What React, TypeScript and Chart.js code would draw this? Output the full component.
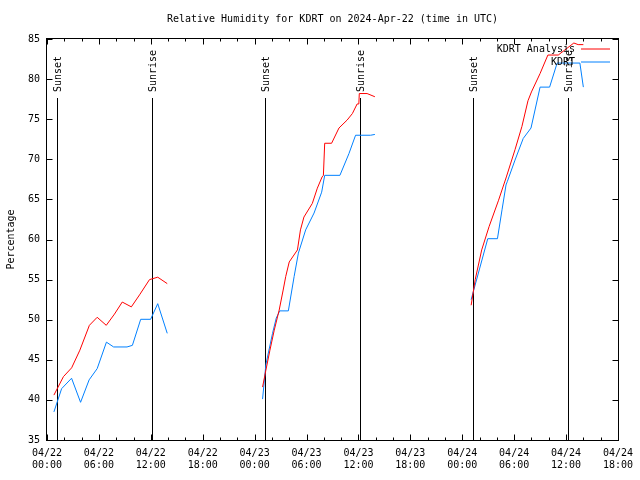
import React, { useEffect, useRef } from 'react';
import { Chart, registerables } from 'chart.js';

Chart.register(...registerables);

// Hours since 2024-04-22 00:00 UTC; null values break the line between days
const analysisHours = [
  0.8, 1.9, 2.85, 3.8, 4.9, 5.8, 6.85, 7.8, 8.7, 9.75, 10.7, 11.85, 12.8, 13.9,
  20,
  24.92, 25.3, 25.77, 26.27, 26.84, 27.3, 27.6, 28.0, 28.95, 29.3, 29.7, 30.67, 31.25, 31.8, 31.95, 32.1, 32.9, 33.75, 34.7, 35.3, 35.85, 36.05, 36.1, 37.0, 37.9,
  44,
  49.03, 49.5, 50.25, 51.1, 52.2, 53.1, 54.1, 54.9, 55.6, 56.0, 57.0, 57.9, 59.1, 60.9, 61.4, 62.0,
];
const analysisValues = [
  40.6, 42.9, 44.0, 46.2, 49.3, 50.3, 49.3, 50.7, 52.2, 51.6, 53.1, 55.0, 55.3, 54.5,
  null,
  41.6, 43.7, 46.2, 48.7, 51.2, 53.7, 55.4, 57.2, 58.7, 61.2, 62.8, 64.5, 66.4, 67.8, 68.0, 72.0, 72.0, 73.9, 74.9, 75.7, 76.9, 76.9, 78.2, 78.2, 77.8,
  null,
  51.8, 55.0, 58.7, 61.6, 64.9, 67.8, 71.2, 74.1, 77.3, 78.4, 80.7, 83.0, 83.0, 84.5, 84.3, 84.3,
];

const obsHours = [
  0.8, 1.69, 2.84, 3.88, 4.87, 5.8, 6.87, 7.7, 9.25, 9.87, 10.83, 11.98, 12.8, 13.9,
  20,
  24.92, 25.3, 26.07, 26.5, 26.9, 27.9, 28.57, 29.06, 29.9, 30.87, 31.75, 32.1, 33.86, 34.9, 35.67, 37.4, 37.9,
  44,
  49.03, 50.95, 52.07, 52.6, 53.06, 53.2, 54.1, 55.05, 55.95, 57.0, 58.1, 58.97, 61.6, 62.0,
];
const obsValues = [
  38.5, 41.4, 42.7, 39.7, 42.5, 43.9, 47.2, 46.6, 46.6, 46.8, 50.05, 50.05, 52.0, 48.3,
  null,
  40.1, 44.4, 48.3, 50.2, 51.1, 51.1, 55.4, 58.3, 61.2, 63.3, 65.9, 68.0, 68.0, 70.7, 73.0, 73.0, 73.1,
  null,
  52.5, 60.1, 60.1, 63.7, 66.8, 67.2, 69.9, 72.6, 73.9, 79.0, 79.0, 82.0, 82.0, 79.0,
];

const sunHours = [1.15, 12.1, 25.15, 36.15, 49.2, 60.2];
const sunLabels = ['Sunset', 'Sunrise', 'Sunset', 'Sunrise', 'Sunset', 'Sunrise'];

const seriesNames = ['KDRT Analysis', 'KDRT'];
const seriesColors = ['#ff0000', '#0080ff'];

const titleText = 'Relative Humidity for KDRT on 2024-Apr-22 (time in UTC)';
const yAxisTitle = 'Percentage';
const monthLabel = '04';
const startDay = 22;

const FONT = '10px "DejaVu Sans Mono", monospace';

const decorPlugin = {
  id: 'decor',
  beforeDatasetsDraw(chart: any) {
    const { ctx, chartArea: a, scales } = chart;
    const x = scales.x;
    ctx.save();
    ctx.strokeStyle = '#000';
    ctx.fillStyle = '#000';
    ctx.lineWidth = 1;
    ctx.font = FONT;
    sunHours.forEach((h, i) => {
      const px = Math.round(x.getPixelForValue(h)) + 0.5;
      ctx.beginPath();
      ctx.moveTo(px, 98);
      ctx.lineTo(px, a.bottom);
      ctx.stroke();
      ctx.save();
      ctx.translate(px + 1, 92);
      ctx.rotate(-Math.PI / 2);
      ctx.textAlign = 'left';
      ctx.textBaseline = 'middle';
      ctx.fillText(sunLabels[i], 0, 0);
      ctx.restore();
    });
    ctx.restore();
  },
  afterDraw(chart: any) {
    const { ctx, chartArea: a, scales } = chart;
    const x = scales.x;
    const y = scales.y;
    ctx.save();
    ctx.strokeStyle = '#000';
    ctx.fillStyle = '#000';
    ctx.lineWidth = 1;
    const L = Math.round(a.left) - 0.5;
    const R = Math.round(a.right) + 0.5;
    const T = Math.round(a.top) - 0.5;
    const B = Math.round(a.bottom) + 0.5;
    ctx.strokeRect(L, T, R - L, B - T);
    ctx.beginPath();
    for (let h = 0; h <= 66; h += 2) {
      const px = Math.round(x.getPixelForValue(h)) + 0.5;
      const len = h % 6 === 0 ? 6 : 3;
      ctx.moveTo(px, B);
      ctx.lineTo(px, B - len);
      ctx.moveTo(px, T);
      ctx.lineTo(px, T + len);
    }
    for (let v = 35; v <= 85; v += 5) {
      const py = Math.round(y.getPixelForValue(v)) + 0.5;
      ctx.moveTo(L, py);
      ctx.lineTo(L + 6, py);
      ctx.moveTo(R, py);
      ctx.lineTo(R - 6, py);
    }
    ctx.stroke();

    ctx.font = FONT;
    ctx.textAlign = 'center';
    ctx.textBaseline = 'middle';
    ctx.fillText(titleText, (a.left + a.right) / 2, 19);

    ctx.save();
    ctx.translate(11, (a.top + a.bottom) / 2);
    ctx.rotate(-Math.PI / 2);
    ctx.fillText(yAxisTitle, 0, 0);
    ctx.restore();

    // legend
    const rows = [49.5, 62.5];
    seriesNames.forEach((name, i) => {
      ctx.textAlign = 'right';
      ctx.fillStyle = '#000';
      ctx.fillText(name, 575, rows[i]);
      ctx.strokeStyle = seriesColors[i];
      ctx.beginPath();
      ctx.moveTo(581, rows[i] - 0.5 + (i === 0 ? 0 : 0));
      ctx.lineTo(610, rows[i] - 0.5);
      ctx.stroke();
    });
    ctx.restore();
  },
};

export default function App() {
  const ref = useRef<HTMLCanvasElement | null>(null);
  useEffect(() => {
    if (!ref.current) return;
    const toPoints = (hs: number[], vs: (number | null)[]) => hs.map((h, i) => ({ x: h, y: vs[i] }));
    const tickFont = { family: '"DejaVu Sans Mono", monospace', size: 10, lineHeight: 1.2 };
    const chart = new Chart(ref.current, {
      type: 'line',
      data: {
        datasets: [
          {
            label: seriesNames[0],
            data: toPoints(analysisHours, analysisValues) as any,
            borderColor: seriesColors[0],
            borderWidth: 1,
            pointRadius: 0,
            tension: 0,
            spanGaps: false,
            fill: false,
          },
          {
            label: seriesNames[1],
            data: toPoints(obsHours, obsValues) as any,
            borderColor: seriesColors[1],
            borderWidth: 1,
            pointRadius: 0,
            tension: 0,
            spanGaps: false,
            fill: false,
          },
        ],
      },
      options: {
        animation: false,
        responsive: false,
        devicePixelRatio: 1,
        layout: { padding: { top: 39, right: 20, left: 0, bottom: 0 } },
        plugins: { legend: { display: false }, tooltip: { enabled: false }, title: { display: false } },
        scales: {
          x: {
            type: 'linear',
            min: 0,
            max: 66,
            grid: { display: false, drawTicks: false },
            border: { display: false },
            ticks: {
              stepSize: 6,
              autoSkip: false,
              maxRotation: 0,
              padding: 7,
              color: '#000',
              font: tickFont,
              callback: (val: any) => {
                const h = Number(val);
                const day = startDay + Math.floor(h / 24);
                const hh = h % 24;
                return [`${monthLabel}/${day}`, `${String(hh).padStart(2, '0')}:00`];
              },
            },
            afterFit: (s: any) => { s.height = 40; },
          },
          y: {
            min: 35,
            max: 85,
            grid: { display: false, drawTicks: false },
            border: { display: false },
            ticks: { stepSize: 5, padding: 7, color: '#000', font: tickFont },
            afterFit: (s: any) => { s.width = 47; },
          },
        },
      },
      plugins: [decorPlugin],
    });
    return () => chart.destroy();
  }, []);
  return (
    <div style={{ position: 'fixed', left: 0, top: 0, width: 640, height: 480, background: '#fff' }}>
      <canvas ref={ref} width={640} height={480} />
    </div>
  );
}
